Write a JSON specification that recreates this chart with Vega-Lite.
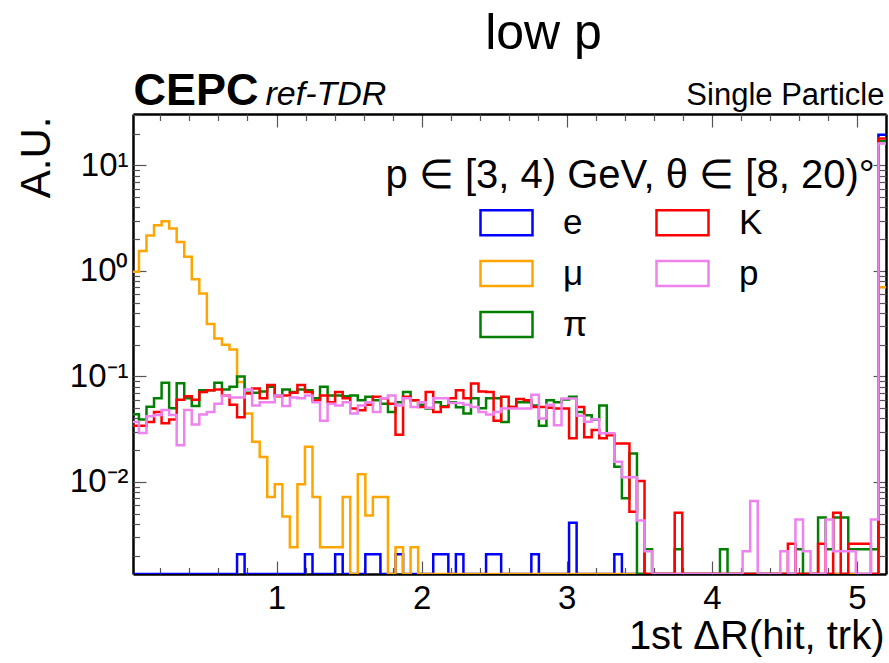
{
"$schema": "https://vega.github.io/schema/vega-lite/v6.json",
"width": 753, "height": 460,
"autosize": "none",
"padding": {"left": 133, "top": 114, "right": 3, "bottom": 89},
"background": "white",
"config": {"view": {"stroke": null}, "font": "Liberation Sans", "axis": {"grid": false, "zindex": 1, "domainColor": "black", "domainWidth": 2.5, "tickColor": "#555", "tickWidth": 1.2, "labelColor": "black", "titleColor": "black", "titleFontWeight": "normal", "labelFont": "Liberation Sans", "titleFont": "Liberation Sans"}},
"datasets": {
"h": [
{"s":"e","x":0,"v":0},{"s":"e","x":0.728,"v":0.00206},{"s":"e","x":0.78,"v":0},{"s":"e","x":1.196,"v":0.00206},{"s":"e","x":1.248,"v":0},{"s":"e","x":1.404,"v":0.00206},{"s":"e","x":1.456,"v":0},{"s":"e","x":1.612,"v":0.00206},{"s":"e","x":1.664,"v":0.00206},{"s":"e","x":1.716,"v":0},{"s":"e","x":1.82,"v":0.00206},{"s":"e","x":1.872,"v":0},{"s":"e","x":2.08,"v":0.00206},{"s":"e","x":2.132,"v":0.00206},{"s":"e","x":2.184,"v":0},{"s":"e","x":2.236,"v":0.00206},{"s":"e","x":2.288,"v":0},{"s":"e","x":2.444,"v":0.00206},{"s":"e","x":2.496,"v":0.00206},{"s":"e","x":2.548,"v":0},{"s":"e","x":2.756,"v":0.00206},{"s":"e","x":2.808,"v":0},{"s":"e","x":3.016,"v":0.0041},{"s":"e","x":3.068,"v":0},{"s":"e","x":3.328,"v":0.00206},{"s":"e","x":3.38,"v":0},{"s":"e","x":5.148,"v":19.5},{"s":"e","x":5.2,"v":19.5},
{"s":"μ","x":0,"v":0.98},{"s":"μ","x":0.052,"v":1.54},{"s":"μ","x":0.104,"v":2.16},{"s":"μ","x":0.156,"v":2.71},{"s":"μ","x":0.208,"v":2.96},{"s":"μ","x":0.26,"v":2.52},{"s":"μ","x":0.312,"v":1.88},{"s":"μ","x":0.364,"v":1.36},{"s":"μ","x":0.416,"v":0.834},{"s":"μ","x":0.468,"v":0.61},{"s":"μ","x":0.52,"v":0.313},{"s":"μ","x":0.572,"v":0.229},{"s":"μ","x":0.624,"v":0.2},{"s":"μ","x":0.676,"v":0.18},{"s":"μ","x":0.728,"v":0.0887},{"s":"μ","x":0.78,"v":0.0445},{"s":"μ","x":0.832,"v":0.024},{"s":"μ","x":0.884,"v":0.0172},{"s":"μ","x":0.936,"v":0.0072},{"s":"μ","x":0.988,"v":0.0095},{"s":"μ","x":1.04,"v":0.0047},{"s":"μ","x":1.092,"v":0.0024},{"s":"μ","x":1.144,"v":0.0095},{"s":"μ","x":1.196,"v":0.0215},{"s":"μ","x":1.248,"v":0.0072},{"s":"μ","x":1.3,"v":0.0024},{"s":"μ","x":1.352,"v":0.0024},{"s":"μ","x":1.404,"v":0.0024},{"s":"μ","x":1.456,"v":0.0072},{"s":"μ","x":1.508,"v":0},{"s":"μ","x":1.56,"v":0.0118},{"s":"μ","x":1.612,"v":0.0048},{"s":"μ","x":1.664,"v":0.0072},{"s":"μ","x":1.716,"v":0.0072},{"s":"μ","x":1.768,"v":0},{"s":"μ","x":1.82,"v":0.0024},{"s":"μ","x":1.872,"v":0},{"s":"μ","x":1.924,"v":0.0024},{"s":"μ","x":1.976,"v":0},{"s":"μ","x":5.148,"v":0.7},{"s":"μ","x":5.2,"v":0.7},
{"s":"π","x":0,"v":0.0438},{"s":"π","x":0.052,"v":0.039},{"s":"π","x":0.104,"v":0.0515},{"s":"π","x":0.156,"v":0.062},{"s":"π","x":0.208,"v":0.087},{"s":"π","x":0.26,"v":0.05},{"s":"π","x":0.312,"v":0.086},{"s":"π","x":0.364,"v":0.062},{"s":"π","x":0.416,"v":0.0525},{"s":"π","x":0.468,"v":0.074},{"s":"π","x":0.52,"v":0.074},{"s":"π","x":0.572,"v":0.087},{"s":"π","x":0.624,"v":0.075},{"s":"π","x":0.676,"v":0.08},{"s":"π","x":0.728,"v":0.1},{"s":"π","x":0.78,"v":0.07},{"s":"π","x":0.832,"v":0.07},{"s":"π","x":0.884,"v":0.072},{"s":"π","x":0.936,"v":0.08},{"s":"π","x":0.988,"v":0.066},{"s":"π","x":1.04,"v":0.075},{"s":"π","x":1.092,"v":0.071},{"s":"π","x":1.144,"v":0.075},{"s":"π","x":1.196,"v":0.074},{"s":"π","x":1.248,"v":0.062},{"s":"π","x":1.3,"v":0.08},{"s":"π","x":1.352,"v":0.066},{"s":"π","x":1.404,"v":0.066},{"s":"π","x":1.456,"v":0.065},{"s":"π","x":1.508,"v":0.066},{"s":"π","x":1.56,"v":0.0595},{"s":"π","x":1.612,"v":0.064},{"s":"π","x":1.664,"v":0.0595},{"s":"π","x":1.716,"v":0.055},{"s":"π","x":1.768,"v":0.046},{"s":"π","x":1.82,"v":0.057},{"s":"π","x":1.872,"v":0.071},{"s":"π","x":1.924,"v":0.0595},{"s":"π","x":1.976,"v":0.054},{"s":"π","x":2.028,"v":0.0496},{"s":"π","x":2.08,"v":0.057},{"s":"π","x":2.132,"v":0.052},{"s":"π","x":2.184,"v":0.057},{"s":"π","x":2.236,"v":0.051},{"s":"π","x":2.288,"v":0.0445},{"s":"π","x":2.34,"v":0.062},{"s":"π","x":2.392,"v":0.05},{"s":"π","x":2.444,"v":0.062},{"s":"π","x":2.496,"v":0.062},{"s":"π","x":2.548,"v":0.037},{"s":"π","x":2.6,"v":0.0514},{"s":"π","x":2.652,"v":0.057},{"s":"π","x":2.704,"v":0.057},{"s":"π","x":2.756,"v":0.053},{"s":"π","x":2.808,"v":0.034},{"s":"π","x":2.86,"v":0.0595},{"s":"π","x":2.912,"v":0.057},{"s":"π","x":2.964,"v":0.0605},{"s":"π","x":3.016,"v":0.064},{"s":"π","x":3.068,"v":0.0461},{"s":"π","x":3.12,"v":0.0429},{"s":"π","x":3.172,"v":0.039},{"s":"π","x":3.224,"v":0.053},{"s":"π","x":3.276,"v":0.028},{"s":"π","x":3.328,"v":0.0139},{"s":"π","x":3.38,"v":0.007},{"s":"π","x":3.432,"v":0.0186},{"s":"π","x":3.484,"v":0},{"s":"π","x":3.536,"v":0.0023},{"s":"π","x":3.588,"v":0},{"s":"π","x":3.744,"v":0.0023},{"s":"π","x":3.796,"v":0},{"s":"π","x":4.056,"v":0.0023},{"s":"π","x":4.108,"v":0},{"s":"π","x":4.576,"v":0.0023},{"s":"π","x":4.628,"v":0},{"s":"π","x":4.732,"v":0.0046},{"s":"π","x":4.784,"v":0.0023},{"s":"π","x":4.836,"v":0.0046},{"s":"π","x":4.888,"v":0.0046},{"s":"π","x":4.94,"v":0.0023},{"s":"π","x":4.992,"v":0.0023},{"s":"π","x":5.044,"v":0.0023},{"s":"π","x":5.096,"v":0.0023},{"s":"π","x":5.148,"v":17},{"s":"π","x":5.2,"v":17},
{"s":"K","x":0,"v":0.034},{"s":"K","x":0.052,"v":0.034},{"s":"K","x":0.104,"v":0.037},{"s":"K","x":0.156,"v":0.046},{"s":"K","x":0.208,"v":0.036},{"s":"K","x":0.26,"v":0.039},{"s":"K","x":0.312,"v":0.06},{"s":"K","x":0.364,"v":0.065},{"s":"K","x":0.416,"v":0.06},{"s":"K","x":0.468,"v":0.071},{"s":"K","x":0.52,"v":0.074},{"s":"K","x":0.572,"v":0.075},{"s":"K","x":0.624,"v":0.066},{"s":"K","x":0.676,"v":0.054},{"s":"K","x":0.728,"v":0.041},{"s":"K","x":0.78,"v":0.069},{"s":"K","x":0.832,"v":0.077},{"s":"K","x":0.884,"v":0.062},{"s":"K","x":0.936,"v":0.083},{"s":"K","x":0.988,"v":0.065},{"s":"K","x":1.04,"v":0.066},{"s":"K","x":1.092,"v":0.07},{"s":"K","x":1.144,"v":0.083},{"s":"K","x":1.196,"v":0.071},{"s":"K","x":1.248,"v":0.059},{"s":"K","x":1.3,"v":0.066},{"s":"K","x":1.352,"v":0.057},{"s":"K","x":1.404,"v":0.071},{"s":"K","x":1.456,"v":0.062},{"s":"K","x":1.508,"v":0.0496},{"s":"K","x":1.56,"v":0.0478},{"s":"K","x":1.612,"v":0.054},{"s":"K","x":1.664,"v":0.064},{"s":"K","x":1.716,"v":0.062},{"s":"K","x":1.768,"v":0.055},{"s":"K","x":1.82,"v":0.028},{"s":"K","x":1.872,"v":0.064},{"s":"K","x":1.924,"v":0.0595},{"s":"K","x":1.976,"v":0.0514},{"s":"K","x":2.028,"v":0.0713},{"s":"K","x":2.08,"v":0.046},{"s":"K","x":2.132,"v":0.0514},{"s":"K","x":2.184,"v":0.062},{"s":"K","x":2.236,"v":0.074},{"s":"K","x":2.288,"v":0.062},{"s":"K","x":2.34,"v":0.0857},{"s":"K","x":2.392,"v":0.072},{"s":"K","x":2.444,"v":0.071},{"s":"K","x":2.496,"v":0.038},{"s":"K","x":2.548,"v":0.064},{"s":"K","x":2.6,"v":0.0514},{"s":"K","x":2.652,"v":0.061},{"s":"K","x":2.704,"v":0.0595},{"s":"K","x":2.756,"v":0.0514},{"s":"K","x":2.808,"v":0.0514},{"s":"K","x":2.86,"v":0.0505},{"s":"K","x":2.912,"v":0.0496},{"s":"K","x":2.964,"v":0.0496},{"s":"K","x":3.016,"v":0.026},{"s":"K","x":3.068,"v":0.0514},{"s":"K","x":3.12,"v":0.0265},{"s":"K","x":3.172,"v":0.031},{"s":"K","x":3.224,"v":0.026},{"s":"K","x":3.276,"v":0.0277},{"s":"K","x":3.328,"v":0.0231},{"s":"K","x":3.38,"v":0.0231},{"s":"K","x":3.432,"v":0.0052},{"s":"K","x":3.484,"v":0.0102},{"s":"K","x":3.536,"v":0},{"s":"K","x":3.744,"v":0.0051},{"s":"K","x":3.796,"v":0},{"s":"K","x":4.524,"v":0.0026},{"s":"K","x":4.576,"v":0},{"s":"K","x":4.732,"v":0.0026},{"s":"K","x":4.784,"v":0},{"s":"K","x":4.836,"v":0.0051},{"s":"K","x":4.888,"v":0},{"s":"K","x":4.94,"v":0.0026},{"s":"K","x":4.992,"v":0.0026},{"s":"K","x":5.044,"v":0.0026},{"s":"K","x":5.096,"v":0},{"s":"K","x":5.148,"v":18},{"s":"K","x":5.2,"v":18},
{"s":"p","x":0,"v":0.037},{"s":"p","x":0.052,"v":0.029},{"s":"p","x":0.104,"v":0.042},{"s":"p","x":0.156,"v":0.043},{"s":"p","x":0.208,"v":0.048},{"s":"p","x":0.26,"v":0.043},{"s":"p","x":0.312,"v":0.0223},{"s":"p","x":0.364,"v":0.048},{"s":"p","x":0.416,"v":0.035},{"s":"p","x":0.468,"v":0.0435},{"s":"p","x":0.52,"v":0.046},{"s":"p","x":0.572,"v":0.055},{"s":"p","x":0.624,"v":0.066},{"s":"p","x":0.676,"v":0.063},{"s":"p","x":0.728,"v":0.063},{"s":"p","x":0.78,"v":0.075},{"s":"p","x":0.832,"v":0.053},{"s":"p","x":0.884,"v":0.057},{"s":"p","x":0.936,"v":0.057},{"s":"p","x":0.988,"v":0.066},{"s":"p","x":1.04,"v":0.0525},{"s":"p","x":1.092,"v":0.063},{"s":"p","x":1.144,"v":0.062},{"s":"p","x":1.196,"v":0.066},{"s":"p","x":1.248,"v":0.057},{"s":"p","x":1.3,"v":0.038},{"s":"p","x":1.352,"v":0.055},{"s":"p","x":1.404,"v":0.053},{"s":"p","x":1.456,"v":0.057},{"s":"p","x":1.508,"v":0.0445},{"s":"p","x":1.56,"v":0.053},{"s":"p","x":1.612,"v":0.057},{"s":"p","x":1.664,"v":0.046},{"s":"p","x":1.716,"v":0.062},{"s":"p","x":1.768,"v":0.066},{"s":"p","x":1.82,"v":0.053},{"s":"p","x":1.872,"v":0.062},{"s":"p","x":1.924,"v":0.0514},{"s":"p","x":1.976,"v":0.057},{"s":"p","x":2.028,"v":0.0505},{"s":"p","x":2.08,"v":0.062},{"s":"p","x":2.132,"v":0.062},{"s":"p","x":2.184,"v":0.056},{"s":"p","x":2.236,"v":0.056},{"s":"p","x":2.288,"v":0.054},{"s":"p","x":2.34,"v":0.0514},{"s":"p","x":2.392,"v":0.046},{"s":"p","x":2.444,"v":0.0435},{"s":"p","x":2.496,"v":0.046},{"s":"p","x":2.548,"v":0.0496},{"s":"p","x":2.6,"v":0.0496},{"s":"p","x":2.652,"v":0.0496},{"s":"p","x":2.704,"v":0.0496},{"s":"p","x":2.756,"v":0.067},{"s":"p","x":2.808,"v":0.04},{"s":"p","x":2.86,"v":0.054},{"s":"p","x":2.912,"v":0.0345},{"s":"p","x":2.964,"v":0.0617},{"s":"p","x":3.016,"v":0.0617},{"s":"p","x":3.068,"v":0.0424},{"s":"p","x":3.12,"v":0.0371},{"s":"p","x":3.172,"v":0.0393},{"s":"p","x":3.224,"v":0.0289},{"s":"p","x":3.276,"v":0.0289},{"s":"p","x":3.328,"v":0.0155},{"s":"p","x":3.38,"v":0.0111},{"s":"p","x":3.432,"v":0.0111},{"s":"p","x":3.484,"v":0.0043},{"s":"p","x":3.536,"v":0.0022},{"s":"p","x":3.588,"v":0},{"s":"p","x":4.212,"v":0.0022},{"s":"p","x":4.264,"v":0.0066},{"s":"p","x":4.316,"v":0},{"s":"p","x":4.472,"v":0.0022},{"s":"p","x":4.524,"v":0},{"s":"p","x":4.576,"v":0.0044},{"s":"p","x":4.628,"v":0.0022},{"s":"p","x":4.68,"v":0},{"s":"p","x":4.784,"v":0.0044},{"s":"p","x":4.836,"v":0.0022},{"s":"p","x":4.888,"v":0.0022},{"s":"p","x":4.94,"v":0.0022},{"s":"p","x":4.992,"v":0},{"s":"p","x":5.096,"v":0.0044},{"s":"p","x":5.148,"v":16.1},{"s":"p","x":5.2,"v":16.1}
],
"g": [{"x": 1, "v": 1}]
},
"layer": [
{
"data": {"name": "h"},
"mark": {"type": "line", "interpolate": "step-after", "strokeWidth": 2.5, "clip": true},
"encoding": {
"x": {"field": "x", "type": "quantitative", "scale": {"type": "linear", "domain": [0.011, 5.2], "nice": false, "zero": false},
"axis": {"orient": "bottom", "values": [1,2,3,4,5], "format": "d", "ticks": false, "labelFontSize": 33, "labelPadding": 8, "labelFlush": false, "labelOverlap": false, "title": "1st ΔR(hit, trk)", "titleFontSize": 40, "titleX": 751, "titleY": 74, "titleAlign": "right", "titleBaseline": "alphabetic"}},
"y": {"field": "v", "type": "quantitative", "scale": {"type": "log", "domain": [0.00134, 30.7], "nice": false, "clamp": true},
"axis": {"orient": "left", "values": [0.01, 0.1, 1, 10], "ticks": false, "labelFontSize": 33, "labelPadding": 5, "labelExpr": "datum.value >= 5 ? '10¹' : datum.value >= 0.5 ? '10⁰' : datum.value >= 0.05 ? '10⁻¹' : '10⁻²'", "title": "A.U.", "titleFontSize": 42, "titleAngle": -90, "titleAlign": "right", "titleBaseline": "alphabetic", "titleX": -84, "titleY": 2}},
"color": {"field": "s", "type": "nominal", "scale": {"domain": ["e", "μ", "π", "K", "p"], "range": ["#0000ff", "#ffa500", "#008000", "#ff0000", "#ee82ee"]},
"legend": {"orient": "none", "legendX": 346, "legendY": 81, "columns": 2, "title": null, "labelFontSize": 35, "labelFont": "Liberation Sans", "labelColor": "black", "labelOffset": 29, "labelLimit": 500, "symbolType": "M-1,-0.48H1V0.48H-1Z", "symbolSize": 2704, "symbolStrokeWidth": 2.5, "symbolFillColor": "transparent", "columnPadding": 63, "rowPadding": 5}}
}
},
{
"data": {"name": "g"},
"mark": {"type": "point", "opacity": 0},
"encoding": {
"x": {"field": "x", "type": "quantitative", "scale": {"type": "linear", "domain": [0.011, 5.2], "nice": false, "zero": false},
"axis": {"orient": "top", "values": [1,2,3,4,5], "labels": false, "tickSize": -13, "title": "Single Particle", "titleFontSize": 31, "titleX": 751, "titleY": -10, "titleAlign": "right", "titleBaseline": "alphabetic"}},
"y": {"field": "v", "type": "quantitative", "scale": {"type": "log", "domain": [0.00134, 30.7], "nice": false, "clamp": true},
"axis": {"orient": "right", "values": [0.01, 0.1, 1, 10], "labels": false, "tickSize": -13, "title": "low p", "titleFontSize": 50, "titleAngle": 0, "titleAlign": "center", "titleBaseline": "alphabetic", "titleX": -343, "titleY": -66}}
}
},
{
"data": {"name": "g"},
"mark": {"type": "point", "opacity": 0},
"encoding": {
"x": {"field": "x", "type": "quantitative", "scale": {"type": "linear", "domain": [0.011, 5.2], "nice": false, "zero": false},
"axis": {"orient": "bottom", "values": [1,2,3,4,5], "labels": false, "domain": false, "tickSize": -13, "title": null}},
"y": {"field": "v", "type": "quantitative", "scale": {"type": "log", "domain": [0.00134, 30.7], "nice": false, "clamp": true},
"axis": {"orient": "left", "values": [0.01, 0.1, 1, 10], "labels": false, "domain": false, "tickSize": -13, "title": null}}
}
},
{
"data": {"name": "g"},
"mark": {"type": "point", "opacity": 0},
"encoding": {
"x": {"field": "x", "type": "quantitative", "scale": {"type": "linear", "domain": [0.011, 5.2], "nice": false, "zero": false},
"axis": {"orient": "top", "values": [0.2,0.4,0.6,0.8,1.2,1.4,1.6,1.8,2.2,2.4,2.6,2.8,3.2,3.4,3.6,3.8,4.2,4.4,4.6,4.8], "labels": false, "domain": false, "tickSize": -6.5, "title": "CEPC", "titleFontSize": 45, "titleFontWeight": "bold", "titleX": 0, "titleY": -10, "titleAlign": "left", "titleBaseline": "alphabetic"}},
"y": {"field": "v", "type": "quantitative", "scale": {"type": "log", "domain": [0.00134, 30.7], "nice": false, "clamp": true},
"axis": {"orient": "right", "values": [0.002,0.003,0.004,0.005,0.006,0.007,0.008,0.009,0.02,0.03,0.04,0.05,0.06,0.07,0.08,0.09,0.2,0.3,0.4,0.5,0.6,0.7,0.8,0.9,2,3,4,5,6,7,8,9,20,30], "labels": false, "domain": false, "tickSize": -6.5, "title": null}}
}
},
{
"data": {"name": "g"},
"mark": {"type": "point", "opacity": 0},
"encoding": {
"x": {"field": "x", "type": "quantitative", "scale": {"type": "linear", "domain": [0.011, 5.2], "nice": false, "zero": false},
"axis": {"orient": "bottom", "values": [0.2,0.4,0.6,0.8,1.2,1.4,1.6,1.8,2.2,2.4,2.6,2.8,3.2,3.4,3.6,3.8,4.2,4.4,4.6,4.8], "labels": false, "domain": false, "tickSize": -6.5, "title": null}},
"y": {"field": "v", "type": "quantitative", "scale": {"type": "log", "domain": [0.00134, 30.7], "nice": false, "clamp": true},
"axis": {"orient": "left", "values": [0.002,0.003,0.004,0.005,0.006,0.007,0.008,0.009,0.02,0.03,0.04,0.05,0.06,0.07,0.08,0.09,0.2,0.3,0.4,0.5,0.6,0.7,0.8,0.9,2,3,4,5,6,7,8,9,20,30], "labels": false, "domain": false, "tickSize": -6.5, "title": null}}
}
},
{
"data": {"name": "g"},
"mark": {"type": "point", "opacity": 0},
"encoding": {
"x": {"field": "x", "type": "quantitative", "scale": {"type": "linear", "domain": [0.011, 5.2], "nice": false, "zero": false},
"axis": {"orient": "top", "values": [], "labels": false, "domain": false, "ticks": false, "title": "ref-TDR", "titleFontSize": 34, "titleFontStyle": "italic", "titleX": 132, "titleY": -10, "titleAlign": "left", "titleBaseline": "alphabetic"}},
"y": {"field": "v", "type": "quantitative", "scale": {"type": "log", "domain": [0.00134, 30.7], "nice": false, "clamp": true},
"axis": {"orient": "right", "values": [], "labels": false, "domain": false, "ticks": false, "title": "p ∈ [3, 4) GeV, θ ∈ [8, 20)°", "titleFontSize": 40, "titleAngle": 0, "titleAlign": "left", "titleBaseline": "alphabetic", "titleX": -501, "titleY": 73}}
}
}
],
"resolve": {"axis": {"x": "independent", "y": "independent"}}
}
